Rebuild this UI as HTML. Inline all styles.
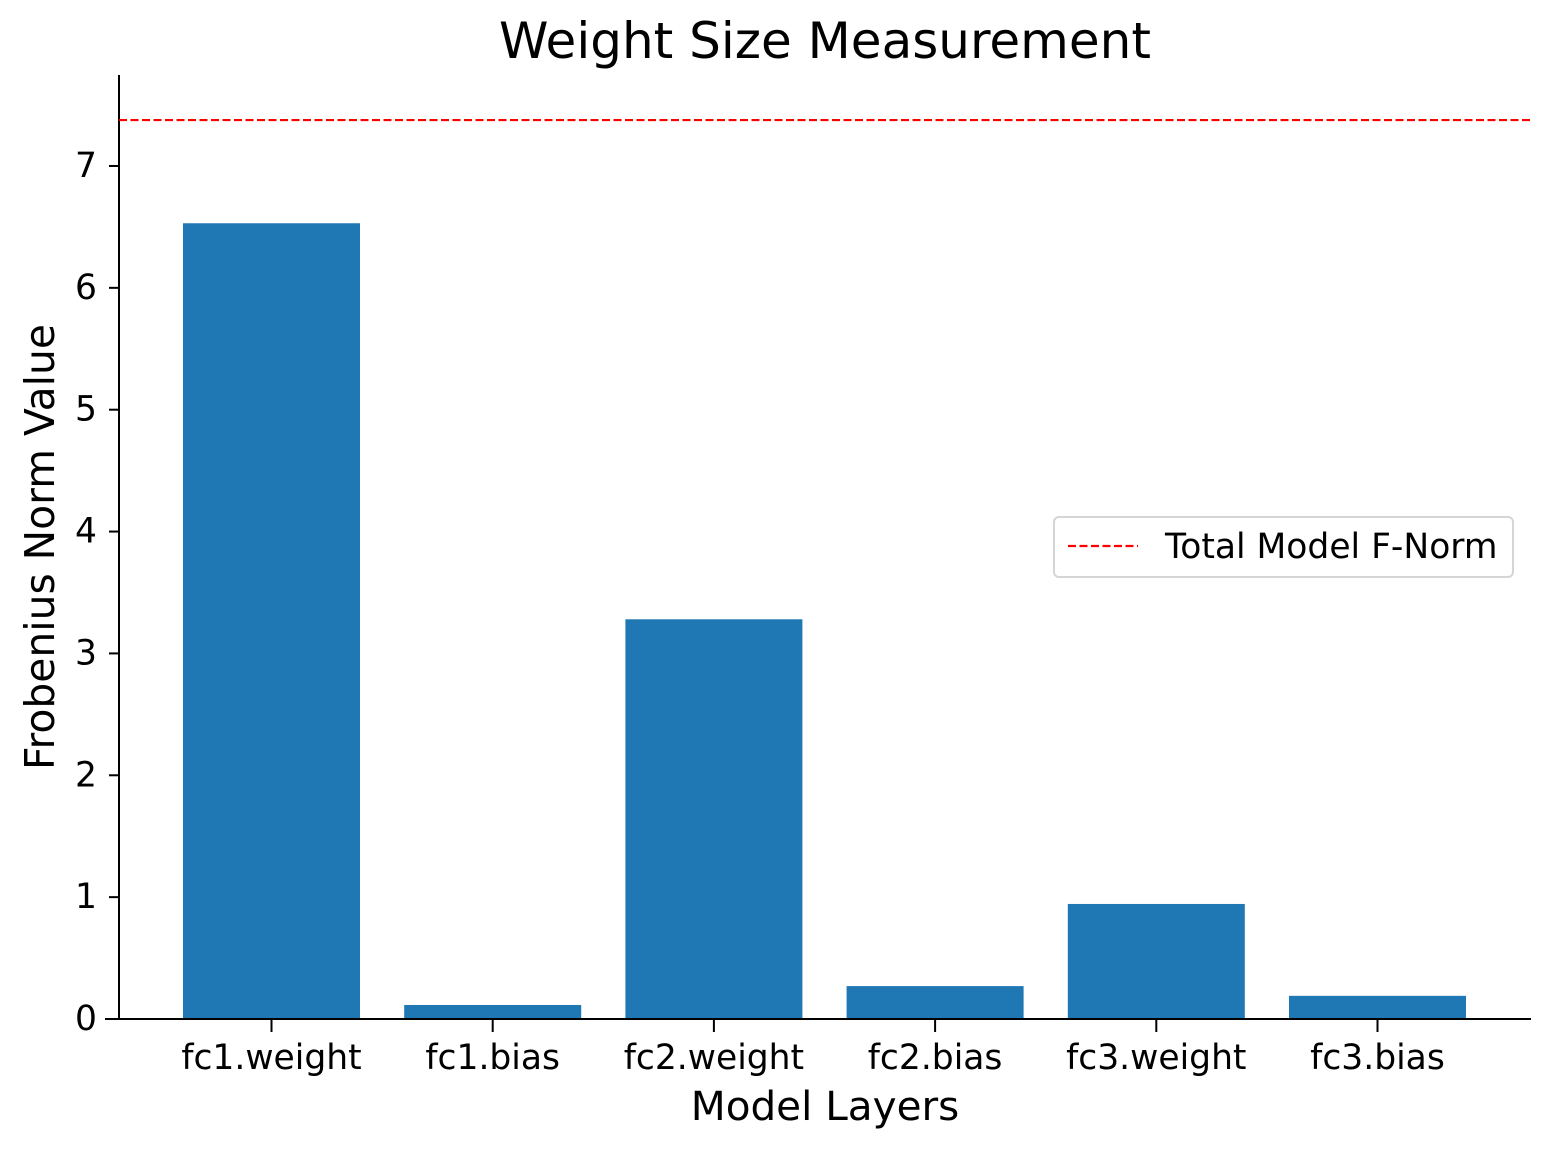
<!DOCTYPE html>
<html><head><meta charset="utf-8"><style>
body{margin:0;background:#fff}
svg text{font-family:"DejaVu Sans","Liberation Sans",sans-serif;fill:#000}
</style></head><body>
<svg id="chart" width="1550" height="1150" xmlns="http://www.w3.org/2000/svg">
<text x="825" y="58" font-size="50" text-anchor="middle">Weight Size Measurement</text>
<text x="825" y="1120" font-size="40.5" text-anchor="middle">Model Layers</text>
<text transform="translate(54,547) rotate(-90)" font-size="40.8" text-anchor="middle">Frobenius Norm Value</text>
<g id="bars"></g>
<g id="yticks"></g>
<g id="xticks"></g>
<line x1="119" y1="75" x2="119" y2="1020" stroke="#000" stroke-width="2"/>
<line x1="105" y1="1019" x2="1531" y2="1019" stroke="#000" stroke-width="2"/>
<line id="refline" x1="119" x2="1530" stroke="#ff0000" stroke-width="2.2" stroke-dasharray="8,3.5"/>
<g>
<rect x="1054" y="517" width="459" height="60" rx="5" fill="#fff" stroke="#d5d5d5" stroke-width="2"/>
<line x1="1068" y1="546" x2="1138" y2="546" stroke="#ff0000" stroke-width="2.2" stroke-dasharray="8,3.5"/>
<text x="1165" y="558" font-size="34.5">Total Model F-Norm</text>
</g>
</svg>
<script>
const categories=["fc1.weight","fc1.bias","fc2.weight","fc2.bias","fc3.weight","fc3.bias"];
const values=[6.53,0.115,3.28,0.27,0.944,0.19];
const totalNorm=7.377;
const yTicks=[0,1,2,3,4,5,6,7];
const NS="http://www.w3.org/2000/svg";
function y(v){return 1019-v*121.86;}
function x(i){return 271.5+221.2*i;}
const bw=177;
const bars=document.getElementById('bars');
values.forEach((v,i)=>{
 const r=document.createElementNS(NS,'rect');
 
 
 r.setAttribute('x',x(i)-bw/2);r.setAttribute('width',bw);
 r.setAttribute('y',y(v));r.setAttribute('height',y(0)-y(v));
 r.setAttribute('fill','#1f77b4');bars.appendChild(r);
});
const yt=document.getElementById('yticks');
yTicks.forEach(t=>{
 const l=document.createElementNS(NS,'line');
 
 
 l.setAttribute('x1',109);l.setAttribute('x2',119);l.setAttribute('y1',y(t));l.setAttribute('y2',y(t));
 l.setAttribute('stroke','#000');l.setAttribute('stroke-width',2);yt.appendChild(l);
 const tx=document.createElementNS(NS,'text');
 
 
 tx.setAttribute('x',97);tx.setAttribute('y',y(t)+11);tx.setAttribute('font-size','34.5');tx.setAttribute('text-anchor','end');
 tx.textContent=t;yt.appendChild(tx);
});
const xt=document.getElementById('xticks');
categories.forEach((c,i)=>{
 const l=document.createElementNS(NS,'line');
 
 
 l.setAttribute('x1',x(i));l.setAttribute('x2',x(i));l.setAttribute('y1',1019);l.setAttribute('y2',1032);
 l.setAttribute('stroke','#000');l.setAttribute('stroke-width',2);xt.appendChild(l);
 const tx=document.createElementNS(NS,'text');
 
 
 tx.setAttribute('x',x(i));tx.setAttribute('y',1069);tx.setAttribute('font-size','34.5');tx.setAttribute('text-anchor','middle');
 tx.textContent=c;xt.appendChild(tx);
});
const rl=document.getElementById('refline');
rl.setAttribute('y1',y(totalNorm));rl.setAttribute('y2',y(totalNorm));
</script>
</body></html>
